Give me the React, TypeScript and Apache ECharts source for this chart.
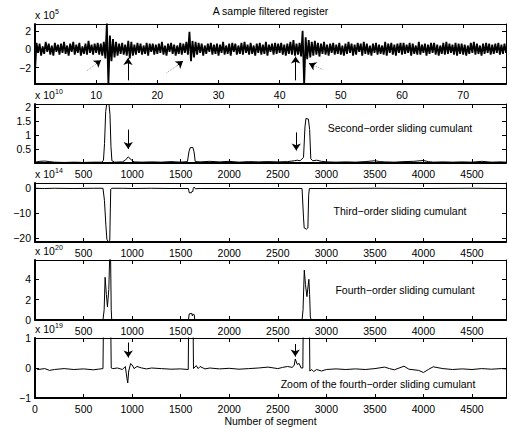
import React, { useEffect, useRef } from 'react';
import * as echarts from 'echarts';

// ---------- DATA ----------
// Panel 1: sample filtered register (x 10^5), sampled every 0.25 s from 0 to 77 s
const SIGNAL_STEP_S = 0.25;
const signalValues: number[] = [
  -2.4, 0.7, -0.4, 0.6, -0.7, 0.3, -0.5, 0.8, -0.3, 0.6, -0.6, 0.4, -0.7, 0.7, -0.3, 0.5, -0.6, 0.6, -0.4, 0.8,
  -0.5, 0.4, -0.7, 0.6, -0.3, 0.8, -0.6, 0.5, -0.4, 0.7, -0.7, 0.3, -0.5, 0.6, -0.6, 0.9, -0.4, 0.5, -0.6, 0.6,
  -0.4, 0.7, -0.6, 0.6, -0.7, 0.8, -1.0, 2.8, -3.9, 1.5, -1.3, 1.1, -0.9, 0.8, -0.7, 0.6, -0.5, 0.7, -0.6, 0.5,
  -0.7, 0.9, -1.0, 0.8, -0.7, 0.5, -0.6, 0.7, -0.4, 0.6, -0.6, 0.4, -0.5, 0.7, -0.7, 0.6, -0.3, 0.6, -0.6, 0.5,
  -0.5, 0.6, -0.4, 0.8, -0.6, 0.4, -0.7, 0.6, -0.3, 0.7, -0.5, 0.5, -0.7, 0.4, -0.5, 0.7, -0.6, 0.6, -0.4, 0.8,
  -0.6, 1.9, -1.3, 0.9, -0.9, 0.8, -0.6, 0.7, -0.4, 0.6, -0.7, 0.4, -0.5, 0.6, -0.3, 0.7, -0.6, 0.5, -0.5, 0.6,
  -0.7, 0.5, -0.4, 0.8, -0.6, 0.4, -0.5, 0.6, -0.7, 0.7, -0.3, 0.6, -0.6, 0.4, -0.5, 0.7, -0.6, 0.8, -0.4, 0.5,
  -0.6, 0.7, -0.5, 0.4, -0.7, 0.6, -0.4, 0.7, -0.6, 0.5, -0.5, 0.8, -0.7, 0.5, -0.3, 0.6, -0.6, 0.7, -0.5, 0.6,
  -0.4, 0.7, -0.6, 0.5, -0.7, 0.6, -0.5, 0.8, -0.6, 1.0, -0.7, 0.6, -0.6, 0.7, -0.8, 2.0, -3.9, 1.3, -1.1, 1.0,
  -0.9, 0.8, -0.7, 0.9, -0.6, 0.7, -0.8, 0.6, -0.5, 0.8, -0.6, 0.5, -0.7, 0.6, -0.4, 0.7, -0.6, 0.5, -0.5, 0.7,
  -0.6, 0.4, -0.7, 0.6, -0.5, 0.8, -0.4, 0.6, -0.7, 0.5, -0.6, 0.7, -0.3, 0.6, -0.7, 0.8, -0.5, 0.6, -0.6, 0.4,
  -0.7, 0.6, -0.4, 0.7, -0.6, 0.5, -0.5, 0.4, -0.6, 0.8, -0.7, 0.6, -0.4, 0.7, -0.6, 0.5, -0.7, 0.6, -0.4, 0.7,
  -0.6, 0.7, -0.5, 0.5, -0.4, 0.7, -0.7, 0.6, -0.5, 0.4, -0.6, 0.8, -0.6, 0.5, -0.4, 0.6, -0.7, 0.5, -0.5, 0.7,
  -0.4, 0.7, -0.6, 0.5, -0.7, 0.4, -0.5, 0.7, -0.6, 0.8, -0.5, 0.6, -0.4, 0.5, -0.6, 0.7, -0.7, 0.6, -0.5, 0.6,
  -0.6, 0.5, -0.7, 0.4, -0.5, 0.7, -0.4, 0.8, -0.6, 0.6, -0.5, 0.4, -0.7, 0.6, -0.5, 0.7, -0.4, 0.6, -0.6, 0.5,
  -0.5, 0.6, -0.4, 0.7, -0.6, 0.5, -0.5, 0.6, -0.4,
];

// Panel 2: second-order sliding cumulant (x 10^10) [segment, value]
const secondOrder: [number, number][] = [
  [0, 0.03], [50, 0.06], [100, 0.07], [150, 0.05], [200, 0.03], [300, 0.02], [400, 0.03], [500, 0.02],
  [600, 0.03], [690, 0.03], [705, 0.1], [716, 0.7], [728, 1.85], [738, 2.1], [762, 2.1], [772, 1.75],
  [782, 0.6], [792, 0.08], [820, 0.03], [900, 0.04], [930, 0.1], [960, 0.22], [990, 0.12], [1020, 0.04],
  [1100, 0.03], [1200, 0.04], [1300, 0.03], [1400, 0.05], [1500, 0.03], [1570, 0.05], [1585, 0.4],
  [1598, 0.55], [1625, 0.56], [1638, 0.4], [1650, 0.05], [1700, 0.04], [1800, 0.06], [1900, 0.04],
  [2000, 0.06], [2100, 0.03], [2200, 0.05], [2300, 0.04], [2400, 0.05], [2500, 0.04], [2600, 0.05],
  [2670, 0.08], [2700, 0.1], [2730, 0.08], [2765, 0.2], [2780, 1.3], [2790, 1.6], [2815, 1.58],
  [2828, 1.2], [2840, 0.15], [2860, 0.08], [2900, 0.1], [2950, 0.06], [3000, 0.04], [3100, 0.03],
  [3200, 0.04], [3300, 0.03], [3400, 0.05], [3500, 0.08], [3550, 0.05], [3600, 0.04], [3700, 0.03],
  [3800, 0.05], [3900, 0.06], [4000, 0.09], [4050, 0.05], [4100, 0.03], [4200, 0.04], [4300, 0.03],
  [4400, 0.04], [4500, 0.03], [4600, 0.06], [4700, 0.03], [4800, 0.04], [4850, 0.03],
];

// Panel 3: third-order sliding cumulant (x 10^14)
const thirdOrder: [number, number][] = [
  [0, -0.2], [100, -0.3], [200, -0.2], [400, -0.3], [600, -0.2], [700, -0.2], [715, -5], [730, -15],
  [740, -20.5], [755, -21.5], [770, -21], [775, -10], [780, -0.5], [790, -0.2], [900, -0.2],
  [1000, -0.3], [1200, -0.2], [1400, -0.3], [1580, -0.3], [1588, -2], [1610, -2], [1615, -1.5],
  [1625, -1.5], [1630, -0.2], [1640, 0.3], [1650, -0.4], [1700, -0.3], [2000, -0.3], [2400, -0.3],
  [2750, -0.3], [2765, -12], [2772, -16], [2795, -16.5], [2810, -16], [2818, -3], [2825, -0.3],
  [3000, -0.3], [3500, -0.2], [4000, -0.3], [4500, -0.2], [4850, -0.3],
];

// Panel 4: fourth-order sliding cumulant (x 10^20)
const fourthOrder: [number, number][] = [
  [0, 0], [700, 0], [712, 1], [722, 4.2], [735, 2.5], [746, 1.3], [760, 3], [770, 6.5], [778, 6.5],
  [785, 1], [790, 0], [1580, 0], [1588, 0.6], [1615, 0.65], [1620, 0.4], [1630, 0.6], [1640, 0.5],
  [1645, 0], [2750, 0], [2760, 1], [2773, 4.9], [2785, 3.5], [2800, 2.3], [2820, 4.0], [2828, 2.5],
  [2835, 0.3], [2845, 0], [4850, 0],
];

// Panel 5: zoom of the fourth-order sliding cumulant (x 10^19)
const fourthZoom: [number, number][] = [
  [0, 1.3], [5, 0], [30, -0.05], [100, -0.02], [150, -0.08], [200, -0.05], [300, -0.02], [400, -0.05],
  [500, -0.03], [600, -0.06], [650, -0.04], [700, -0.02], [705, 1.5], [780, 1.5], [785, 0], [800, -0.02],
  [850, 0], [900, -0.05], [930, 0.05], [945, -0.3], [955, -0.5], [965, -0.1], [985, 0.15], [1000, 0.1],
  [1020, -0.02], [1050, 0.05], [1100, 0], [1150, -0.03], [1200, 0], [1300, -0.02], [1400, -0.04],
  [1500, -0.03], [1578, -0.05], [1582, 1.5], [1628, 1.5], [1632, -0.02], [1660, 0.08], [1680, -0.02],
  [1700, 0.05], [1750, -0.03], [1800, 0], [1900, -0.03], [2000, -0.01], [2100, -0.04], [2200, -0.02],
  [2300, 0], [2400, 0.03], [2500, -0.02], [2550, 0.02], [2600, 0.05], [2650, 0.02], [2670, 0.1],
  [2680, 0.3], [2700, 0.12], [2720, 0.15], [2740, 0], [2758, 0], [2762, 1.5], [2826, 1.5], [2830, -0.1],
  [2850, -0.05], [2870, -0.12], [2900, -0.05], [2950, -0.1], [3000, -0.05], [3100, -0.03], [3200, -0.05],
  [3300, -0.03], [3400, -0.05], [3500, -0.02], [3600, 0.03], [3650, -0.02], [3700, -0.06], [3800, 0.06],
  [3850, -0.04], [3950, -0.08], [4000, -0.15], [4050, -0.05], [4100, 0.04], [4200, -0.02], [4300, -0.05],
  [4400, -0.03], [4500, -0.05], [4600, -0.02], [4700, -0.04], [4800, -0.02], [4850, -0.03],
];

// Axis extents and tick labels
const timeMax = 77;
const segmentMax = 4850;
const timeTicks = [10, 20, 30, 40, 50, 60, 70];
const segmentTicks = [500, 1000, 1500, 2000, 2500, 3000, 3500, 4000, 4500];
const segmentTicksWithZero = [0, ...segmentTicks];
const yTicks1 = [-2, 0, 2];
const yTicks2 = [0.5, 1, 1.5, 2];
const yTicks3 = [-20, -10, 0];
const yTicks4 = [0, 2, 4];
const yTicks5 = [-1, 0, 1];
const exponents = ['5', '10', '14', '20', '19'];

// Arrows (data coordinates): solid arrows, and dotted trails ending with a solid head
const arrows1 = [
  { from: [15.2, -3.4], to: [15.2, -0.95] },
  { from: [42.6, -3.4], to: [42.6, -0.8] },
];
const dottedArrows1 = [
  { from: [8.5, -2.35], neck: [10.0, -1.6], to: [10.8, -1.2] },
  { from: [21.5, -2.6], neck: [23.3, -1.75], to: [24.2, -1.3] },
  { from: [47.0, -2.2], neck: [45.6, -1.8], to: [44.8, -1.55] },
];
const arrows2 = [
  { from: [960, 1.2], to: [960, 0.5] },
  { from: [2690, 1.1], to: [2690, 0.45] },
];
const arrows5 = [
  { from: [960, 0.85], to: [960, 0.35] },
  { from: [2680, 0.8], to: [2680, 0.38] },
];

const FONT = 'Liberation Sans, Arial, Helvetica, sans-serif';

export default function App() {
  const ref = useRef<HTMLDivElement>(null);

  useEffect(() => {
    if (!ref.current) return;
    const chart = echarts.init(ref.current, undefined, { renderer: 'svg' });

    const panels = [
      { top: 24, height: 60, xmax: timeMax, xticks: timeTicks, xlabels: timeTicks, ymin: -3.8, ymax: 2.75, yticks: yTicks1 },
      { top: 104, height: 59, xmax: segmentMax, xticks: segmentTicks, xlabels: segmentTicks, ymin: 0, ymax: 2.12, yticks: yTicks2 },
      { top: 183, height: 59, xmax: segmentMax, xticks: segmentTicks, xlabels: segmentTicks, ymin: -21.6, ymax: 1.9, yticks: yTicks3 },
      { top: 260, height: 60, xmax: segmentMax, xticks: segmentTicks, xlabels: segmentTicks, ymin: 0, ymax: 5.9, yticks: yTicks4 },
      { top: 338, height: 60, xmax: segmentMax, xticks: segmentTicks, xlabels: segmentTicksWithZero, ymin: -1, ymax: 1, yticks: yTicks5 },
    ];

    const fmt = (v: number) => String(v).replace('-', '\u2212');
    const labelStyle = { color: '#000', fontSize: 10.5, fontFamily: FONT };

    const grid: any[] = [];
    const xAxis: any[] = [];
    const yAxis: any[] = [];
    panels.forEach((p, i) => {
      grid.push({ left: 35, right: 3, top: p.top, height: p.height, containLabel: false });
      const baseX = {
        type: 'value', gridIndex: i, min: 0, max: p.xmax,
        splitLine: { show: false },
      };
      xAxis.push({
        ...baseX, position: 'bottom',
        axisLine: { show: true, onZero: false, lineStyle: { color: '#000', width: 2 } },
        axisTick: { show: true, inside: true, length: 4, customValues: p.xticks, lineStyle: { color: '#000', width: 1 } },
        axisLabel: { show: true, customValues: p.xlabels, margin: 5, formatter: fmt, ...labelStyle },
      });
      xAxis.push({
        ...baseX, position: 'top',
        axisLine: { show: true, onZero: false, lineStyle: { color: '#000', width: 1 } },
        axisTick: { show: true, inside: true, length: 4, customValues: p.xticks, lineStyle: { color: '#000', width: 1 } },
        axisLabel: { show: false },
      });
      const baseY = { type: 'value', gridIndex: i, min: p.ymin, max: p.ymax, splitLine: { show: false } };
      yAxis.push({
        ...baseY, position: 'left',
        axisLine: { show: true, onZero: false, lineStyle: { color: '#000', width: 2 } },
        axisTick: { show: true, inside: true, length: 4, customValues: p.yticks, lineStyle: { color: '#000', width: 1 } },
        axisLabel: { show: true, customValues: p.yticks, margin: 4, formatter: fmt, ...labelStyle },
      });
      yAxis.push({
        ...baseY, position: 'right',
        axisLine: { show: true, onZero: false, lineStyle: { color: '#000', width: 1 } },
        axisTick: { show: true, inside: true, length: 4, customValues: p.yticks, lineStyle: { color: '#000', width: 1 } },
        axisLabel: { show: false },
      });
    });

    const solid = { type: 'solid', color: '#000', width: 1 };
    const dotted = { type: 'dotted', color: '#999', width: 1 };
    const mkArrows = (list: any[], dottedList: any[] = []) => {
      const data: any[] = [];
      list.forEach((a) => {
        data.push([
          { coord: a.from, lineStyle: solid, symbol: 'none' },
          { coord: a.to, lineStyle: solid, symbol: 'arrow' },
        ]);
      });
      dottedList.forEach((a) => {
        data.push([
          { coord: a.from, lineStyle: dotted, symbol: 'none' },
          { coord: a.neck, lineStyle: dotted, symbol: 'none' },
        ]);
        data.push([
          { coord: a.neck, lineStyle: solid, symbol: 'none' },
          { coord: a.to, lineStyle: solid, symbol: 'arrow' },
        ]);
      });
      return {
        silent: true,
        symbol: ['none', 'arrow'],
        symbolSize: 7,
        label: { show: false },
        emphasis: { disabled: true },
        lineStyle: solid,
        itemStyle: { color: '#000' },
        animation: false,
        data,
      };
    };

    const lineSeries = (i: number, data: any[], width: number, extra: any = {}) => ({
      type: 'line',
      xAxisIndex: 2 * i,
      yAxisIndex: 2 * i,
      data,
      showSymbol: false,
      symbol: 'none',
      clip: true,
      lineStyle: { color: '#000', width },
      itemStyle: { color: '#000' },
      silent: true,
      animation: false,
      ...extra,
    });

    const signalData = signalValues.map((v, k) => [k * SIGNAL_STEP_S, v]);

    const series = [
      lineSeries(0, signalData, 1.8, { markLine: mkArrows(arrows1, dottedArrows1) }),
      lineSeries(1, secondOrder, 1, { markLine: mkArrows(arrows2) }),
      lineSeries(2, thirdOrder, 1),
      lineSeries(3, fourthOrder, 1),
      lineSeries(4, fourthZoom, 1, { markLine: mkArrows(arrows5) }),
    ];

    const txt = (x: number, y: number, text: string, size: number, align = 'center') => ({
      type: 'text', x, y, silent: true,
      style: { text, fontSize: size, fontFamily: FONT, fill: '#000', align, verticalAlign: 'middle' },
    });

    const graphics: any[] = [
      txt(270.5, 11, 'A sample filtered register', 10.5),
      txt(270.5, 421, 'Number of segment', 10.5),
      txt(400, 128, 'Second\u2212order sliding cumulant', 10.5),
      txt(400, 211, 'Third\u2212order sliding cumulant', 10.5),
      txt(405, 290, 'Fourth\u2212order sliding cumulant', 10.5),
      txt(378, 384, 'Zoom of the fourth\u2212order sliding cumulant', 10.5),
    ];
    panels.forEach((p, i) => {
      graphics.push(txt(35, p.top - 9, 'x 10', 10.5, 'left'));
      graphics.push(txt(55, p.top - 13, exponents[i], 7, 'left'));
    });

    chart.setOption({
      animation: false,
      backgroundColor: '#fff',
      grid,
      xAxis,
      yAxis,
      series,
      graphic: graphics,
    });

    return () => chart.dispose();
  }, []);

  return (
    <div
      ref={ref}
      style={{ position: 'fixed', left: 0, top: 0, width: 509, height: 428, background: '#fff' }}
    />
  );
}
